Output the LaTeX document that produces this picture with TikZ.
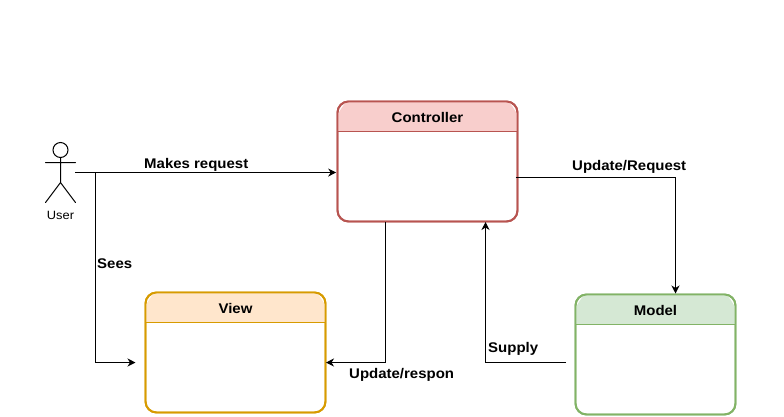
\documentclass[tikz,border=0pt]{standalone}
\usepackage{fontspec}
\setmainfont{Liberation Sans}
\newfontfamily\widefont[FakeStretch=1.07]{Liberation Sans}
\usetikzlibrary{arrows.meta,calc}
\definecolor{redfill}{HTML}{F8CECC}\definecolor{redline}{HTML}{B85450}
\definecolor{orafill}{HTML}{FFE6CC}\definecolor{oraline}{HTML}{D79B00}
\definecolor{grnfill}{HTML}{D5E8D4}\definecolor{grnline}{HTML}{82B366}
\tikzset{
 lane/.style={draw,line width=1.9pt,rounded corners=11pt,inner sep=0pt,outer sep=0pt,minimum height=120pt},
 title/.style={font=\widefont\fontsize{14}{16}\selectfont\bfseries,inner sep=0pt,text=black},
 lbl/.style={font=\widefont\fontsize{14}{16}\selectfont\bfseries,inner sep=0pt,anchor=west,text=black},
 conn/.style={line width=1pt,-{Stealth[length=8pt,width=8pt,inset=2.5pt]}},
 actor/.style={line width=1pt,line cap=round}
}
\newcommand{\lanehead}[3]{%
 \fill[#2] ($(#1.north west)+(0,30)$) -- ($(#1.north west)+(0,11)$) to[out=-90,in=180,looseness=0.9] ($(#1.north west)+(11,0)$) -- ($(#1.north east)+(-11,0)$) to[out=0,in=-90,looseness=0.9] ($(#1.north east)+(0,11)$) -- ($(#1.north east)+(0,30)$) -- cycle;
 \draw[#3,line width=1.9pt] ($(#1.north west)+(0,30)$) -- ($(#1.north east)+(0,30)$);
}
\begin{document}
\begin{tikzpicture}[x=1pt,y=-1pt]
\useasboundingbox[fill=white] (0,0) rectangle (784,416);
% boxes
\node[lane,draw=redline,fill=white,minimum width=180pt] (ctrl) at (427.5,161.5) {};
\lanehead{ctrl}{redfill}{redline}
\node[lane,draw=redline,minimum width=180pt] (ctrlB) at (ctrl.center) {};
\node[title] (ctrlT) at (427.5,117) {Controller};
\node[lane,draw=oraline,fill=white,minimum width=180pt] (view) at (235.5,352.5) {};
\lanehead{view}{orafill}{oraline}
\node[lane,draw=oraline,minimum width=180pt] (viewB) at (view.center) {};
\node[title] (viewT) at (235.5,308) {View};
\node[lane,draw=grnline,fill=white,minimum width=160pt] (model) at (655.5,354.5) {};
\lanehead{model}{grnfill}{grnline}
\node[lane,draw=grnline,minimum width=160pt] (modelB) at (model.center) {};
\node[title] (modelT) at (655.5,310) {Model};
% actor
\node[circle,draw,line width=1pt,minimum size=15pt,inner sep=0pt,outer sep=0pt] (head) at (60.5,150) {};
\coordinate (hip) at (60.5,182.5);
\coordinate (armL) at (45.5,162.5);
\coordinate (armR) at (75.5,162.5);
\coordinate (legL) at (45.5,202.5);
\coordinate (legR) at (75.5,202.5);
\draw[actor] (head.south) -- (hip) (armL) -- (armR) (legL) -- (hip) -- (legR);
\node[font=\widefont\fontsize{12}{14}\selectfont,inner sep=0pt] (user) at (60.5,215.5) {User};
% connector anchors
\coordinate (uOut) at (75,172.5);
\coordinate (uBr) at (95.5,172.5);
\coordinate (vIn) at (135.5,362.5);
\coordinate (cIn) at (336.2,172.5);
\coordinate (cOut) at (515.5,177.5);
\coordinate (mOut) at (566,362.5);
\coordinate (mTop) at (675.5,293.5);
\coordinate (cDn) at (385.5,221.5);
\coordinate (cUp) at (485.5,222);
\coordinate (vR) at (326,362.5);
\draw[conn] (uOut) -- (cIn);
\draw[conn] (uBr) -- (uBr |- vIn) -- (vIn);
\draw[conn] (cOut) -| (mTop);
\draw[conn] (cDn) |- (vR);
\draw[conn] (mOut) -| (cUp);
% labels
\node[lbl] (l1) at (144,165) {Makes request};
\node[lbl] (l2) at (97,264) {Sees};
\node[lbl] (l3) at (572,167) {Update/Request};
\node[lbl] (l4) at (349,374.5) {Update/respon};
\node[lbl] (l5) at (488,349) {Supply};
\end{tikzpicture}
\end{document}
